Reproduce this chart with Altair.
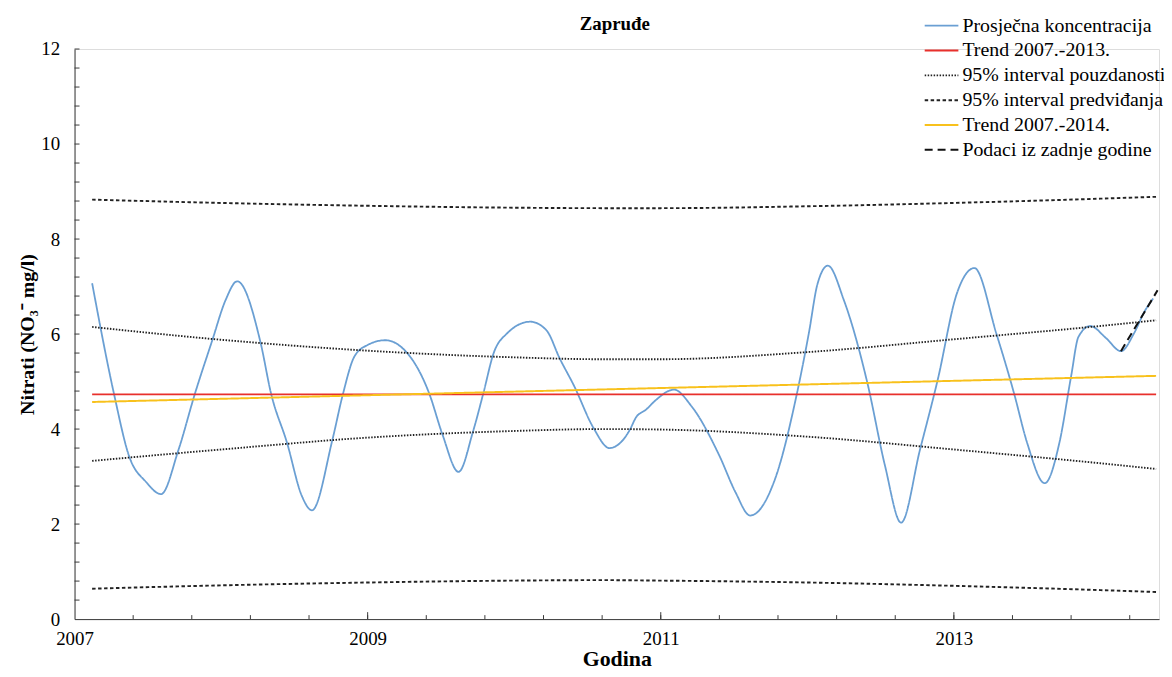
import altair as alt
import pandas as pd

FONT = "Liberation Serif"

SERIES = ["Prosječna koncentracija", "Trend 2007.-2013.", "95% interval pouzdanosti",
          "95% interval predviđanja", "Trend 2007.-2014.", "Podaci iz zadnje godine"]
COLORS = ["#6A9FD3", "#E8302C", "#222222", "#222222", "#F8C11C", "#111111"]
DASHES = [[1, 0], [1, 0], [1.5, 1.5], [3.5, 2.5], [1, 0], [8, 5]]
WIDTHS = [1.8, 2.0, 1.2, 1.2, 2.0, 2.0]

avg_x = [2007.12, 2007.27, 2007.37, 2007.49, 2007.59, 2007.71, 2007.82, 2007.94, 2008.03, 2008.11,
         2008.27, 2008.34, 2008.45, 2008.55, 2008.62, 2008.76, 2008.83, 2008.91, 2009.00, 2009.12,
         2009.27, 2009.42, 2009.51, 2009.62, 2009.72, 2009.79, 2009.86, 2009.95, 2010.11, 2010.22,
         2010.31, 2010.41, 2010.54, 2010.65, 2010.79, 2010.83, 2010.90, 2010.97, 2011.09, 2011.21,
         2011.40, 2011.51, 2011.61, 2011.78, 2011.93, 2012.01, 2012.07, 2012.14, 2012.25, 2012.41,
         2012.53, 2012.64, 2012.77, 2012.89, 2013.02, 2013.14, 2013.29, 2013.41, 2013.50, 2013.62,
         2013.72, 2013.80, 2013.85, 2013.93, 2014.04, 2014.14, 2014.23, 2014.30, 2014.36]
avg_y = [7.07, 4.73, 3.45, 2.88, 2.63, 3.57, 4.73, 5.87, 6.71, 7.11,
         5.81, 4.76, 3.71, 2.60, 2.29, 3.78, 4.72, 5.53, 5.77, 5.87,
         5.60, 4.75, 3.89, 3.10, 3.96, 4.76, 5.60, 6.01, 6.26, 6.08,
         5.49, 4.90, 4.03, 3.60, 3.99, 4.24, 4.41, 4.62, 4.83, 4.48,
         3.44, 2.67, 2.18, 2.95, 4.76, 6.01, 7.06, 7.44, 6.71, 4.97,
         3.23, 2.03, 3.58, 5.04, 6.85, 7.39, 6.01, 4.76, 3.71, 2.86,
         3.71, 5.11, 5.94, 6.17, 5.91, 5.64, 6.02, 6.47, 6.75]

trend13_x = [2007.12, 2014.38]
trend13_y = [4.73, 4.73]
trend14_x = [2007.12, 2014.38]
trend14_y = [4.57, 5.12]

band_x = [2007.12, 2008.0, 2009.0, 2010.0, 2010.6, 2011.0, 2012.0, 2013.0, 2014.0, 2014.38]
conf_up = [6.15, 5.88, 5.65, 5.51, 5.47, 5.47, 5.62, 5.89, 6.17, 6.29]
conf_lo = [3.33, 3.57, 3.82, 3.96, 4.00, 3.99, 3.84, 3.57, 3.28, 3.16]
pred_up = [8.83, 8.76, 8.70, 8.66, 8.65, 8.65, 8.69, 8.76, 8.85, 8.89]
pred_lo = [0.64, 0.71, 0.77, 0.81, 0.82, 0.81, 0.77, 0.70, 0.61, 0.57]

last_x = [2014.14, 2014.39]
last_y = [5.64, 6.92]

x_labels = [2007, 2009, 2011, 2013]
y_labels = [0, 2, 4, 6, 8, 10, 12]
y_minor = [round(0.4 * i, 1) for i in range(1, 31)]
x_minor = [round(2007 + 0.4 * i, 1) for i in range(1, 19)]

rows = []
def add(series, part, xs, ys):
    for i, (a, b) in enumerate(zip(xs, ys)):
        rows.append({"x": a, "y": b, "series": series, "part": part, "o": i})

add(SERIES[0], "avg", avg_x, avg_y)
add(SERIES[1], "t13", trend13_x, trend13_y)
add(SERIES[2], "cu", band_x, conf_up)
add(SERIES[2], "cl", band_x, conf_lo)
add(SERIES[3], "pu", band_x, pred_up)
add(SERIES[3], "pl", band_x, pred_lo)
add(SERIES[4], "t14", trend14_x, trend14_y)
add(SERIES[5], "last", last_x, last_y)
df = pd.DataFrame(rows)

W, H = 1092, 574
xscale = alt.Scale(domain=[2007, 2014.4], nice=False, zero=False)
yscale = alt.Scale(domain=[0, 12], nice=False)

xaxis = alt.Axis(values=x_labels, format="d", title="Godina", grid=False,
                 tickSize=0, labelFont=FONT, labelFontSize=19, labelColor="black",
                 labelPadding=11, titleFont=FONT, titleFontSize=22,
                 titleFontWeight="bold", titleColor="black", titlePadding=0,
                 domainColor="#3a3a3a", labelFlush=False)
yaxis = alt.Axis(values=y_labels, title="Nitrati (NO₃⁻ mg/l)", grid=False,
                 tickSize=0, labelFont=FONT, labelFontSize=19, labelColor="black",
                 labelPadding=15, titleFont=FONT, titleFontSize=20,
                 titleFontWeight="bold", titleColor="black", titlePadding=3,
                 domainColor="#3a3a3a")

legend = alt.Legend(orient="none", legendX=855, legendY=-36, title=None,
                    symbolType="stroke", symbolSize=1150, symbolStrokeWidth=1.6,
                    labelFont=FONT, labelFontSize=20, labelColor="black",
                    labelOffset=3, rowPadding=0, clipHeight=25, padding=0,
                    labelLimit=400)

lines = alt.Chart(df).mark_line(interpolate="monotone").encode(
    x=alt.X("x:Q", scale=xscale, axis=xaxis),
    y=alt.Y("y:Q", scale=yscale, axis=yaxis),
    color=alt.Color("series:N", scale=alt.Scale(domain=SERIES, range=COLORS), legend=legend,
                    sort=SERIES),
    strokeDash=alt.StrokeDash("series:N", scale=alt.Scale(domain=SERIES, range=DASHES),
                              legend=legend, sort=SERIES),
    strokeWidth=alt.StrokeWidth("series:N", scale=alt.Scale(domain=SERIES, range=WIDTHS),
                                legend=None),
    detail="part:N",
    order="o:Q",
)

ydf = pd.DataFrame({"y": y_minor})
yticks = alt.Chart(ydf).mark_rule(color="#3a3a3a", strokeWidth=1).encode(
    y=alt.Y("y:Q", scale=yscale, axis=yaxis), x=alt.value(0), x2=alt.value(5))

xdf = pd.DataFrame({"x": x_minor})
xticks = alt.Chart(xdf).mark_rule(color="#3a3a3a", strokeWidth=1).encode(
    x=alt.X("x:Q", scale=xscale, axis=xaxis), y=alt.value(H), y2=alt.value(H - 4))

xmdf = pd.DataFrame({"x": x_labels[1:]})
xmajor = alt.Chart(xmdf).mark_rule(color="#3a3a3a", strokeWidth=1).encode(
    x=alt.X("x:Q", scale=xscale, axis=xaxis), y=alt.value(H), y2=alt.value(H - 7))

tdf = pd.DataFrame({"t": ["Zapruđe"]})
title = alt.Chart(tdf).mark_text(font=FONT, fontSize=19, fontWeight="bold", color="black",
                                 baseline="middle", align="center").encode(
    text="t:N", x=alt.value(W / 2 - 2), y=alt.value(-25))

chart = alt.layer(lines, yticks, xticks, xmajor, title).properties(
    width=W, height=H,
    autosize=alt.AutoSizeParams(type="none"),
    padding={"left": 67, "top": 39, "right": 5, "bottom": 56},
).configure_view(stroke=None).configure(background="white")

chart.save("out.html", embed_options={"renderer": "svg", "actions": False})
